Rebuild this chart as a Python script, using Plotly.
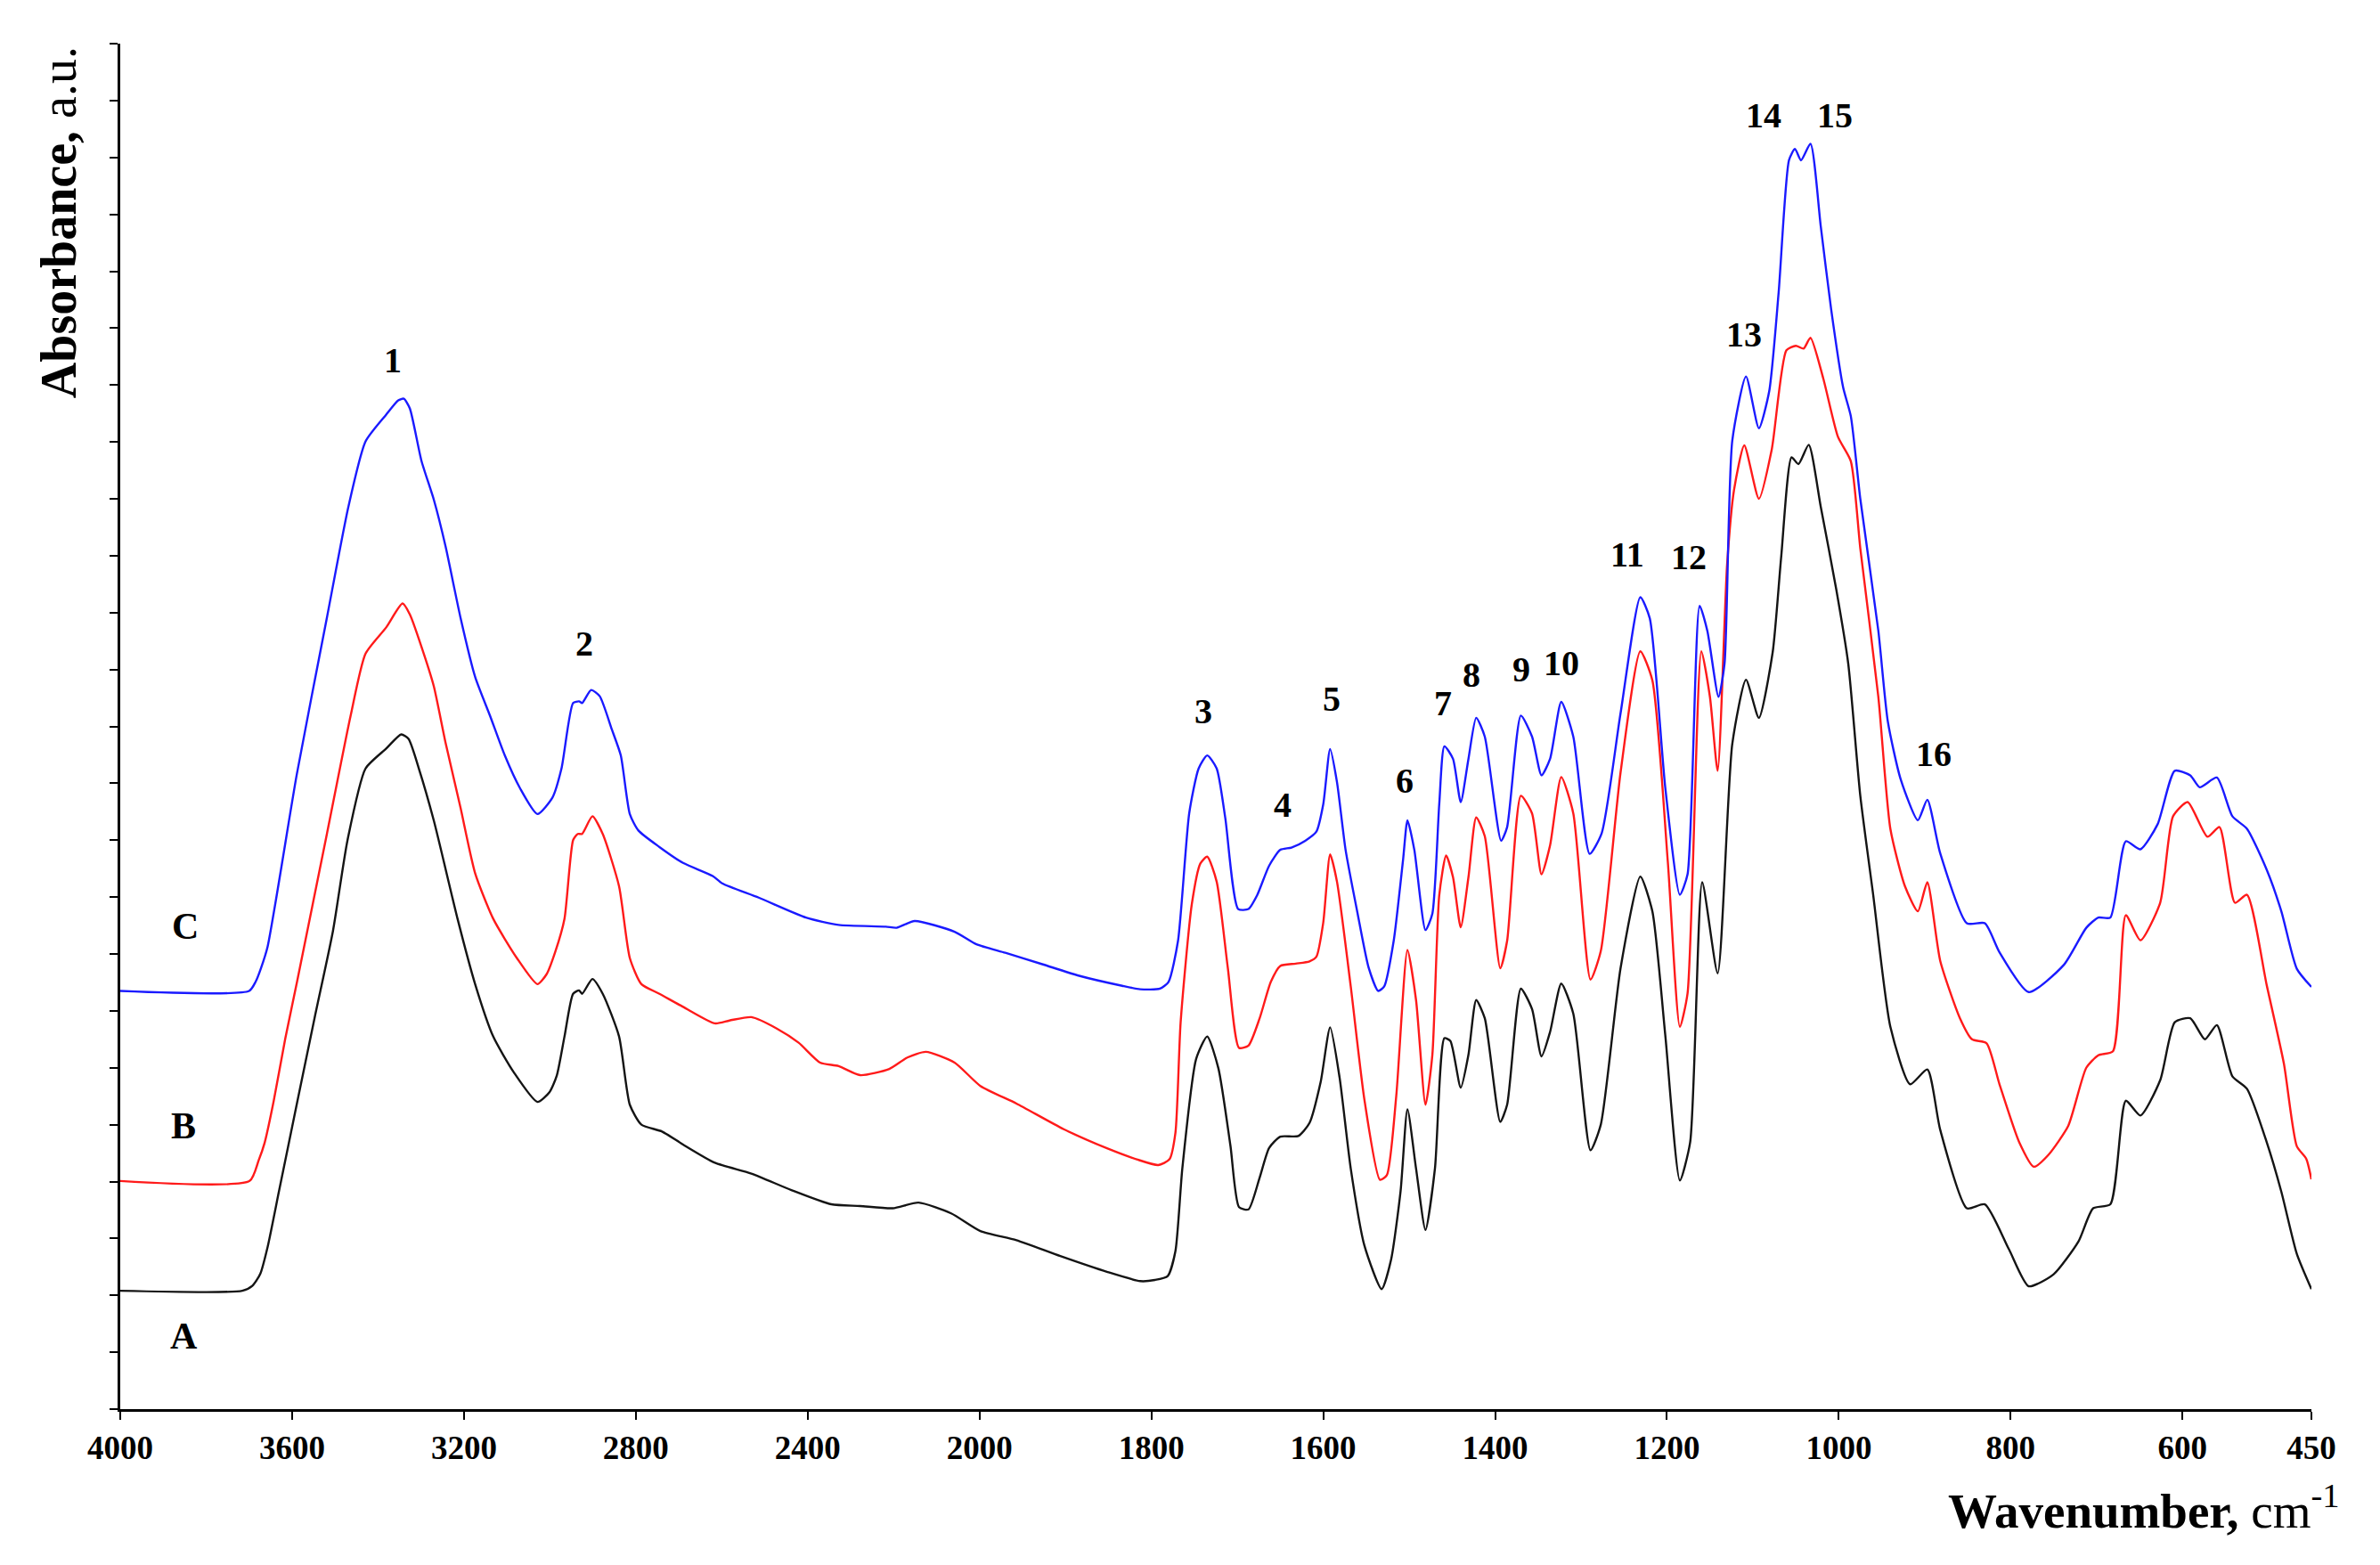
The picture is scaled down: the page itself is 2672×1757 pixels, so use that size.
import numpy as np
import plotly.graph_objects as go

# ---------------- data (wavenumber, cm-1 ; absorbance, a.u.) ----------------
A_wn = [4000, 3716, 3692, 3674, 3657, 3630, 3588, 3547, 3505, 3471, 3429, 3381, 3346, 3329, 3305, 3270,
        3215, 3174, 3132, 3084, 3029, 3001, 2984, 2966, 2946, 2932, 2925, 2901, 2877, 2839, 2814, 2787,
        2739, 2690, 2616, 2531, 2438, 2345, 2278, 2202, 2142, 2066, 1999, 1957, 1906, 1851, 1813, 1796,
        1781, 1772, 1764, 1748, 1735, 1722, 1708, 1698, 1687, 1674, 1663, 1650, 1629, 1616, 1603, 1592,
        1581, 1568, 1552, 1532, 1521, 1510, 1502, 1492, 1481, 1470, 1459, 1452, 1440, 1431, 1422, 1412,
        1394, 1386, 1370, 1357, 1346, 1336, 1323, 1309, 1289, 1277, 1254, 1231, 1217, 1202, 1185, 1173,
        1159, 1141, 1124, 1108, 1093, 1077, 1067, 1055, 1047, 1035, 1021, 1003, 989, 975, 960, 940, 917,
        897, 882, 851, 830, 802, 779, 750, 721, 704, 684, 666, 649, 626, 609, 591, 574, 560, 542, 525,
        502, 485, 467, 450]
A_abs = [2.08, 2.08, 2.17, 2.38, 2.85, 3.85, 5.40, 6.90, 8.40, 10.00, 11.26, 11.61, 11.86, 11.78, 11.26, 10.34,
         8.62, 7.47, 6.55, 5.92, 5.40, 5.57, 5.86, 6.55, 7.30, 7.36, 7.30, 7.56, 7.30, 6.55, 5.35, 5.00,
         4.88, 4.65, 4.33, 4.14, 3.85, 3.60, 3.57, 3.53, 3.63, 3.44, 3.13, 2.97, 2.69, 2.41, 2.25, 2.27,
         2.34, 2.78, 4.23, 6.15, 6.55, 5.99, 4.63, 3.55, 3.51, 4.07, 4.59, 4.79, 4.80, 5.03, 5.75, 6.71,
         5.83, 4.23, 2.87, 2.11, 2.63, 3.83, 5.27, 4.23, 3.15, 4.23, 6.52, 6.47, 5.65, 6.23, 7.19, 6.87,
         5.05, 5.35, 7.39, 7.03, 6.20, 6.63, 7.48, 6.95, 4.55, 5.00, 7.75, 9.36, 8.75, 6.58, 4.02, 4.69,
         9.26, 7.66, 11.69, 12.82, 12.15, 13.30, 14.99, 16.73, 16.61, 16.95, 15.86, 14.41, 13.10, 10.78, 9.04, 6.72, 5.71,
         5.97, 4.91, 3.53, 3.60, 2.81, 2.16, 2.37, 2.95, 3.53, 3.60, 5.42, 5.16, 5.78, 6.80, 6.87, 6.50, 6.75, 5.85, 5.63,
         4.69, 3.82, 2.73, 2.11]

B_wn = [4000, 3699, 3678, 3664, 3643, 3616, 3588, 3519, 3464, 3429, 3381, 3343, 3326, 3291, 3270, 3243,
        3208, 3174, 3132, 3077, 3029, 3008, 2987, 2966, 2946, 2935, 2925, 2901, 2877, 2839, 2814, 2787,
        2745, 2690, 2616, 2582, 2531, 2472, 2421, 2371, 2328, 2278, 2210, 2168, 2125, 2058, 1999, 1957,
        1902, 1851, 1817, 1792, 1779, 1772, 1766, 1753, 1743, 1735, 1724, 1711, 1698, 1687, 1674, 1661,
        1650, 1632, 1616, 1608, 1600, 1592, 1584, 1568, 1552, 1534, 1526, 1515, 1502, 1492, 1481, 1473,
        1465, 1457, 1449, 1440, 1431, 1422, 1412, 1394, 1386, 1370, 1357, 1346, 1336, 1323, 1309, 1289,
        1277, 1254, 1231, 1217, 1199, 1185, 1176, 1160, 1150, 1141, 1130, 1122, 1110, 1093, 1078, 1061,
        1050, 1041, 1033, 1018, 1001, 986, 975, 954, 940, 923, 908, 897, 882, 859, 845, 828, 813, 790,
        773, 756, 733, 712, 698, 681, 666, 649, 626, 611, 594, 571, 557, 539, 525, 502, 482, 467, 456, 450]
B_abs = [4.01, 4.01, 4.37, 4.68, 5.41, 6.51, 7.53, 10.11, 12.18, 13.28, 13.74, 14.16, 13.97, 13.22, 12.70, 11.72,
         10.57, 9.42, 8.62, 7.93, 7.47, 7.64, 8.05, 8.62, 10.00, 10.11, 10.11, 10.42, 10.11, 9.19, 7.93, 7.47,
         7.30, 7.07, 6.78, 6.83, 6.89, 6.69, 6.44, 6.09, 6.03, 5.87, 5.98, 6.18, 6.28, 6.09, 5.68, 5.37,
         4.92, 4.58, 4.39, 4.29, 4.39, 4.86, 6.79, 8.87, 9.59, 9.71, 9.27, 7.75, 6.35, 6.39, 6.87, 7.51,
         7.79, 7.83, 7.87, 7.95, 8.55, 9.75, 9.27, 7.43, 5.43, 4.03, 4.11, 5.51, 8.07, 7.19, 5.35, 6.23,
         9.03, 9.73, 9.35, 8.47, 9.35, 10.40, 10.07, 7.75, 8.23, 10.78, 10.47, 9.40, 9.91, 11.11, 10.47, 7.55,
         8.05, 11.19, 13.32, 12.81, 9.62, 6.72, 7.31, 13.32, 12.52, 11.22, 14.84, 16.15, 16.94, 16.00, 16.87, 18.61,
         18.69, 18.64, 18.83, 18.11, 17.09, 16.66, 15.13, 12.52, 10.20, 9.19, 8.75, 9.26, 7.88, 6.87, 6.50, 6.43, 5.71, 4.69,
         4.26, 4.47, 4.98, 6.00, 6.22, 6.29, 8.68, 8.24, 8.90, 10.42, 10.67, 10.06, 10.23, 8.90, 9.04, 7.45, 6.07, 4.62, 4.40, 4.04]

C_wn = [4000, 3700, 3685, 3672, 3657, 3589, 3519, 3469, 3429, 3381, 3353, 3340, 3326, 3299, 3270, 3243,
        3208, 3174, 3139, 3105, 3070, 3029, 2994, 2973, 2946, 2932, 2925, 2904, 2884, 2856, 2835, 2814,
        2794, 2745, 2690, 2621, 2599, 2514, 2404, 2328, 2218, 2193, 2151, 2058, 2007, 1970, 1927, 1885,
        1834, 1813, 1790, 1780, 1769, 1756, 1745, 1735, 1724, 1714, 1699, 1687, 1677, 1663, 1650, 1637,
        1621, 1608, 1600, 1592, 1584, 1574, 1560, 1547, 1536, 1529, 1518, 1507, 1502, 1494, 1481, 1473,
        1465, 1459, 1449, 1440, 1431, 1422, 1412, 1393, 1386, 1370, 1357, 1346, 1336, 1323, 1309, 1290,
        1276, 1254, 1231, 1220, 1202, 1185, 1176, 1162, 1153, 1140, 1133, 1124, 1108, 1093, 1081, 1070,
        1058, 1051, 1044, 1033, 1021, 1009, 995, 986, 975, 954, 943, 928, 908, 897, 882, 851, 830, 813,
        779, 738, 712, 698, 684, 666, 649, 629, 609, 591, 580, 560, 542, 525, 502, 485, 467, 450]
C_abs = [7.35, 7.35, 7.51, 7.76, 8.13, 11.16, 13.91, 15.86, 17.01, 17.48, 17.73, 17.76, 17.59, 16.67, 15.98, 15.17,
         13.91, 12.87, 12.18, 11.49, 10.92, 10.46, 10.75, 11.26, 12.41, 12.44, 12.41, 12.64, 12.53, 11.95, 11.49, 10.46,
         10.17, 9.88, 9.60, 9.37, 9.24, 8.99, 8.64, 8.51, 8.48, 8.46, 8.58, 8.39, 8.17, 8.02, 7.82, 7.62,
         7.44, 7.38, 7.39, 7.51, 8.23, 10.47, 11.26, 11.49, 11.26, 10.39, 8.79, 8.79, 9.03, 9.55, 9.83, 9.87,
         9.99, 10.15, 10.63, 11.60, 11.02, 9.83, 8.71, 7.75, 7.35, 7.43, 8.23, 9.67, 10.35, 9.83, 8.42, 8.71,
         10.63, 11.65, 11.43, 10.67, 11.43, 12.15, 11.82, 9.99, 10.23, 12.19, 11.82, 11.14, 11.43, 12.43, 11.82, 9.76,
         10.12, 12.23, 14.27, 13.90, 10.93, 9.04, 9.40, 14.12, 13.68, 12.52, 13.10, 17.02, 18.15, 17.24, 17.89, 19.63,
         21.95, 22.15, 21.95, 22.24, 20.79, 19.34, 17.96, 17.45, 16.00, 13.68, 12.09, 11.07, 10.35, 10.71, 9.77, 8.54, 8.54, 8.03,
         7.33, 7.81, 8.46, 8.64, 8.64, 9.98, 9.84, 10.28, 11.22, 11.14, 10.93, 11.10, 10.42, 10.20, 9.48, 8.75, 7.74, 7.42]

tick_wn = [4000, 3600, 3200, 2800, 2400, 2000, 1800, 1600, 1400, 1200, 1000, 800, 600, 450]

peak_labels = ["1", "2", "3", "4", "5", "6", "7", "8", "9", "10", "11", "12", "13", "14", "15", "16"]
peak_wn = [3365, 2919, 1739, 1647, 1590, 1505, 1461, 1428, 1369, 1323, 1246, 1175, 1110, 1088, 1005, 890]
peak_abs = [18.44, 13.45, 12.26, 10.62, 12.49, 11.04, 12.41, 12.91, 13.00, 13.11, 15.02, 14.97, 18.89, 22.74, 22.74, 11.52]

series_names = ["A", "B", "C"]
series_colors = ["#141414", "#ff1a1a", "#1a1aff"]
name_wn = [3852, 3852, 3848]
name_abs = [1.29, 4.98, 8.48]


# ---------------- scale: break in x scale at 2000 cm-1 ----------------
def xscale(w):
    w = np.asarray(w, dtype=float)
    return np.where(w >= 2000, (4000 - w) / 400.0, 5 + (2000 - w) / 200.0)


FONT = "Liberation Serif"
fig = go.Figure()
for name, wn, ab, col in [("A", A_wn, A_abs, series_colors[0]),
                          ("B", B_wn, B_abs, series_colors[1]),
                          ("C", C_wn, C_abs, series_colors[2])]:
    fig.add_trace(go.Scatter(x=xscale(wn), y=ab, mode="lines", name=name,
                             line=dict(color=col, width=2.4, shape="spline", smoothing=0.6)))

for lab, w, a in zip(peak_labels, peak_wn, peak_abs):
    fig.add_annotation(x=float(xscale(w)), y=a, text=lab, showarrow=False,
                       font=dict(family=FONT, size=40, color="black", weight="bold"),
                       xanchor="center", yanchor="middle")
for lab, w, a in zip(series_names, name_wn, name_abs):
    fig.add_annotation(x=float(xscale(w)), y=a, text=lab, showarrow=False,
                       font=dict(family=FONT, size=42, color="black", weight="bold"),
                       xanchor="center", yanchor="middle")

fig.add_annotation(xref="paper", yref="paper", x=1.014, y=-0.072, xanchor="right", yanchor="middle",
                   text="<b>Wavenumber,</b> cm<sup>-1</sup>", showarrow=False,
                   font=dict(family=FONT, size=55, color="black"))
fig.add_annotation(xref="paper", yref="paper", x=-0.0283, y=0.869, xanchor="center", yanchor="middle",
                   text="<b>Absorbance,</b> a.u.", showarrow=False, textangle=-90,
                   font=dict(family=FONT, size=56, color="black"))

fig.update_xaxes(range=[0, 12.75], tickmode="array", tickvals=xscale(tick_wn),
                 ticktext=[str(t) for t in tick_wn], ticks="outside", ticklen=9, tickwidth=2,
                 tickcolor="black", showline=True, linewidth=3, linecolor="black",
                 showgrid=False, zeroline=False,
                 tickfont=dict(family=FONT, size=37, color="black", weight="bold"))
fig.update_yaxes(range=[0, 24], tick0=0, dtick=1, ticks="outside", ticklen=9, tickwidth=2,
                 tickcolor="black", showline=True, linewidth=3, linecolor="black",
                 showgrid=False, zeroline=False, showticklabels=False)

fig.update_layout(width=2672, height=1757, showlegend=False,
                  plot_bgcolor="white", paper_bgcolor="white",
                  margin=dict(l=135, r=77, t=49, b=175))
fig.write_html("out.html")
